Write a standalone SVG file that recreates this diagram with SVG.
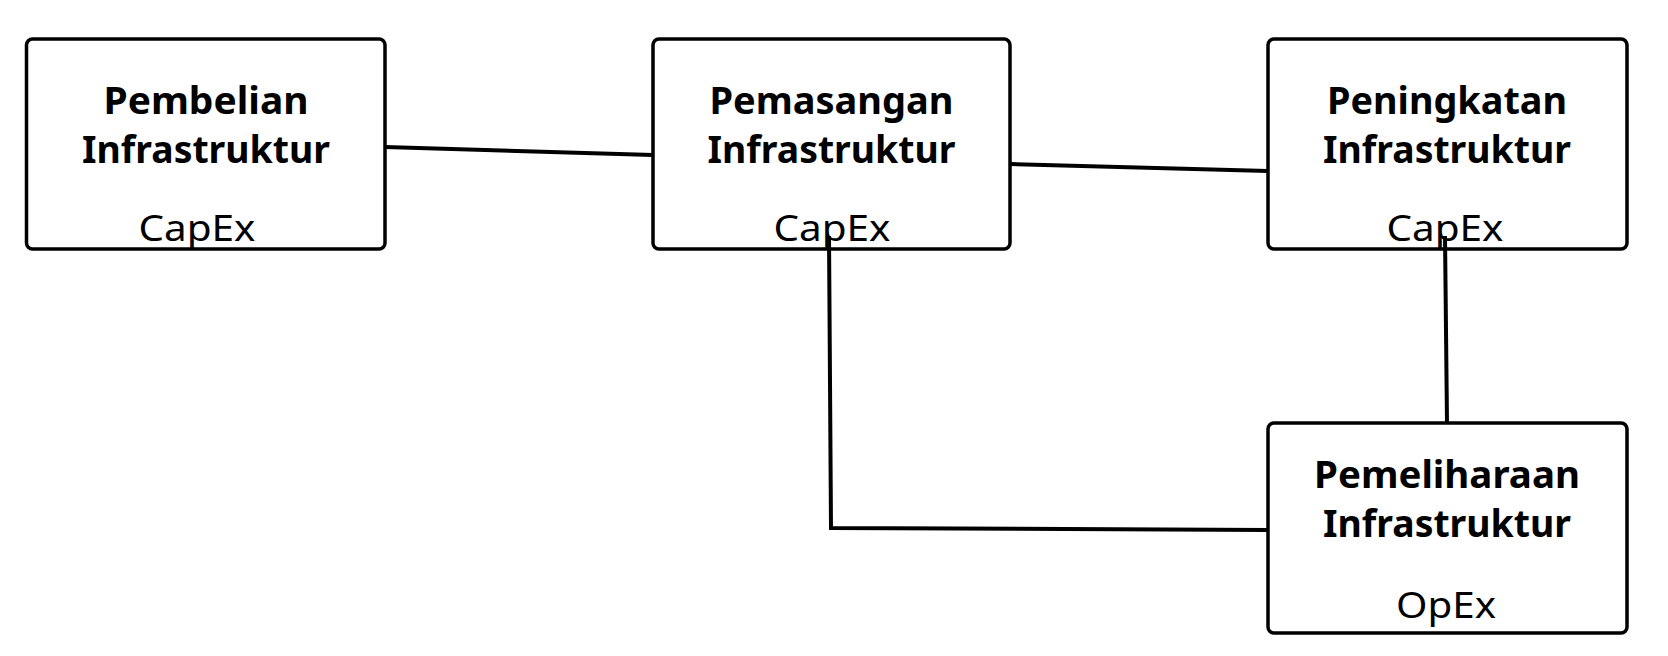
<svg xmlns="http://www.w3.org/2000/svg" width="1668" height="656" viewBox="0 0 1668 656">
<style>
.box{fill:#fff;stroke:#000;stroke-width:3.5}
.t{font-family:"Noto Sans","Liberation Sans",sans-serif;font-weight:bold;font-size:37px;text-anchor:middle;fill:#000}
.s{font-family:"Noto Sans","Liberation Sans",sans-serif;font-size:36px;text-anchor:middle;fill:#000}
.c{fill:none;stroke:#000;stroke-width:4}
</style>
<rect width="1668" height="656" fill="#fff"/>
<g id="n1"><rect class="box" x="26.5" y="39" width="358.5" height="210" rx="6"/>
<text class="t" x="206" y="114" textLength="205" lengthAdjust="spacingAndGlyphs">Pembelian</text><text class="t" x="206" y="163" textLength="248" lengthAdjust="spacingAndGlyphs">Infrastruktur</text><text class="s" x="197" y="241" textLength="117" lengthAdjust="spacingAndGlyphs">CapEx</text></g>
<g id="n2"><rect class="box" x="653" y="39" width="357" height="210" rx="6"/>
<text class="t" x="831.5" y="114" textLength="244" lengthAdjust="spacingAndGlyphs">Pemasangan</text><text class="t" x="831.5" y="163" textLength="248" lengthAdjust="spacingAndGlyphs">Infrastruktur</text><text class="s" x="832" y="241" textLength="117" lengthAdjust="spacingAndGlyphs">CapEx</text></g>
<g id="n3"><rect class="box" x="1268" y="39" width="359" height="210" rx="6"/>
<text class="t" x="1447" y="114" textLength="240" lengthAdjust="spacingAndGlyphs">Peningkatan</text><text class="t" x="1447" y="163" textLength="248" lengthAdjust="spacingAndGlyphs">Infrastruktur</text><text class="s" x="1445" y="241" textLength="117" lengthAdjust="spacingAndGlyphs">CapEx</text></g>
<g id="n4"><rect class="box" x="1268" y="423" width="359" height="210" rx="6"/>
<text class="t" x="1447" y="488" textLength="266" lengthAdjust="spacingAndGlyphs">Pemeliharaan</text><text class="t" x="1447" y="537" textLength="248" lengthAdjust="spacingAndGlyphs">Infrastruktur</text><text class="s" x="1446" y="618" textLength="100" lengthAdjust="spacingAndGlyphs">OpEx</text></g>
<g id="connectors">
<path class="c" d="M385,147 L653,155"/>
<path class="c" d="M1010,164 L1268,171"/>
<path class="c" d="M1445,236 L1447,423"/>
<path class="c" d="M829,236 L831,528 L1268,530"/>
</g>
</svg>
